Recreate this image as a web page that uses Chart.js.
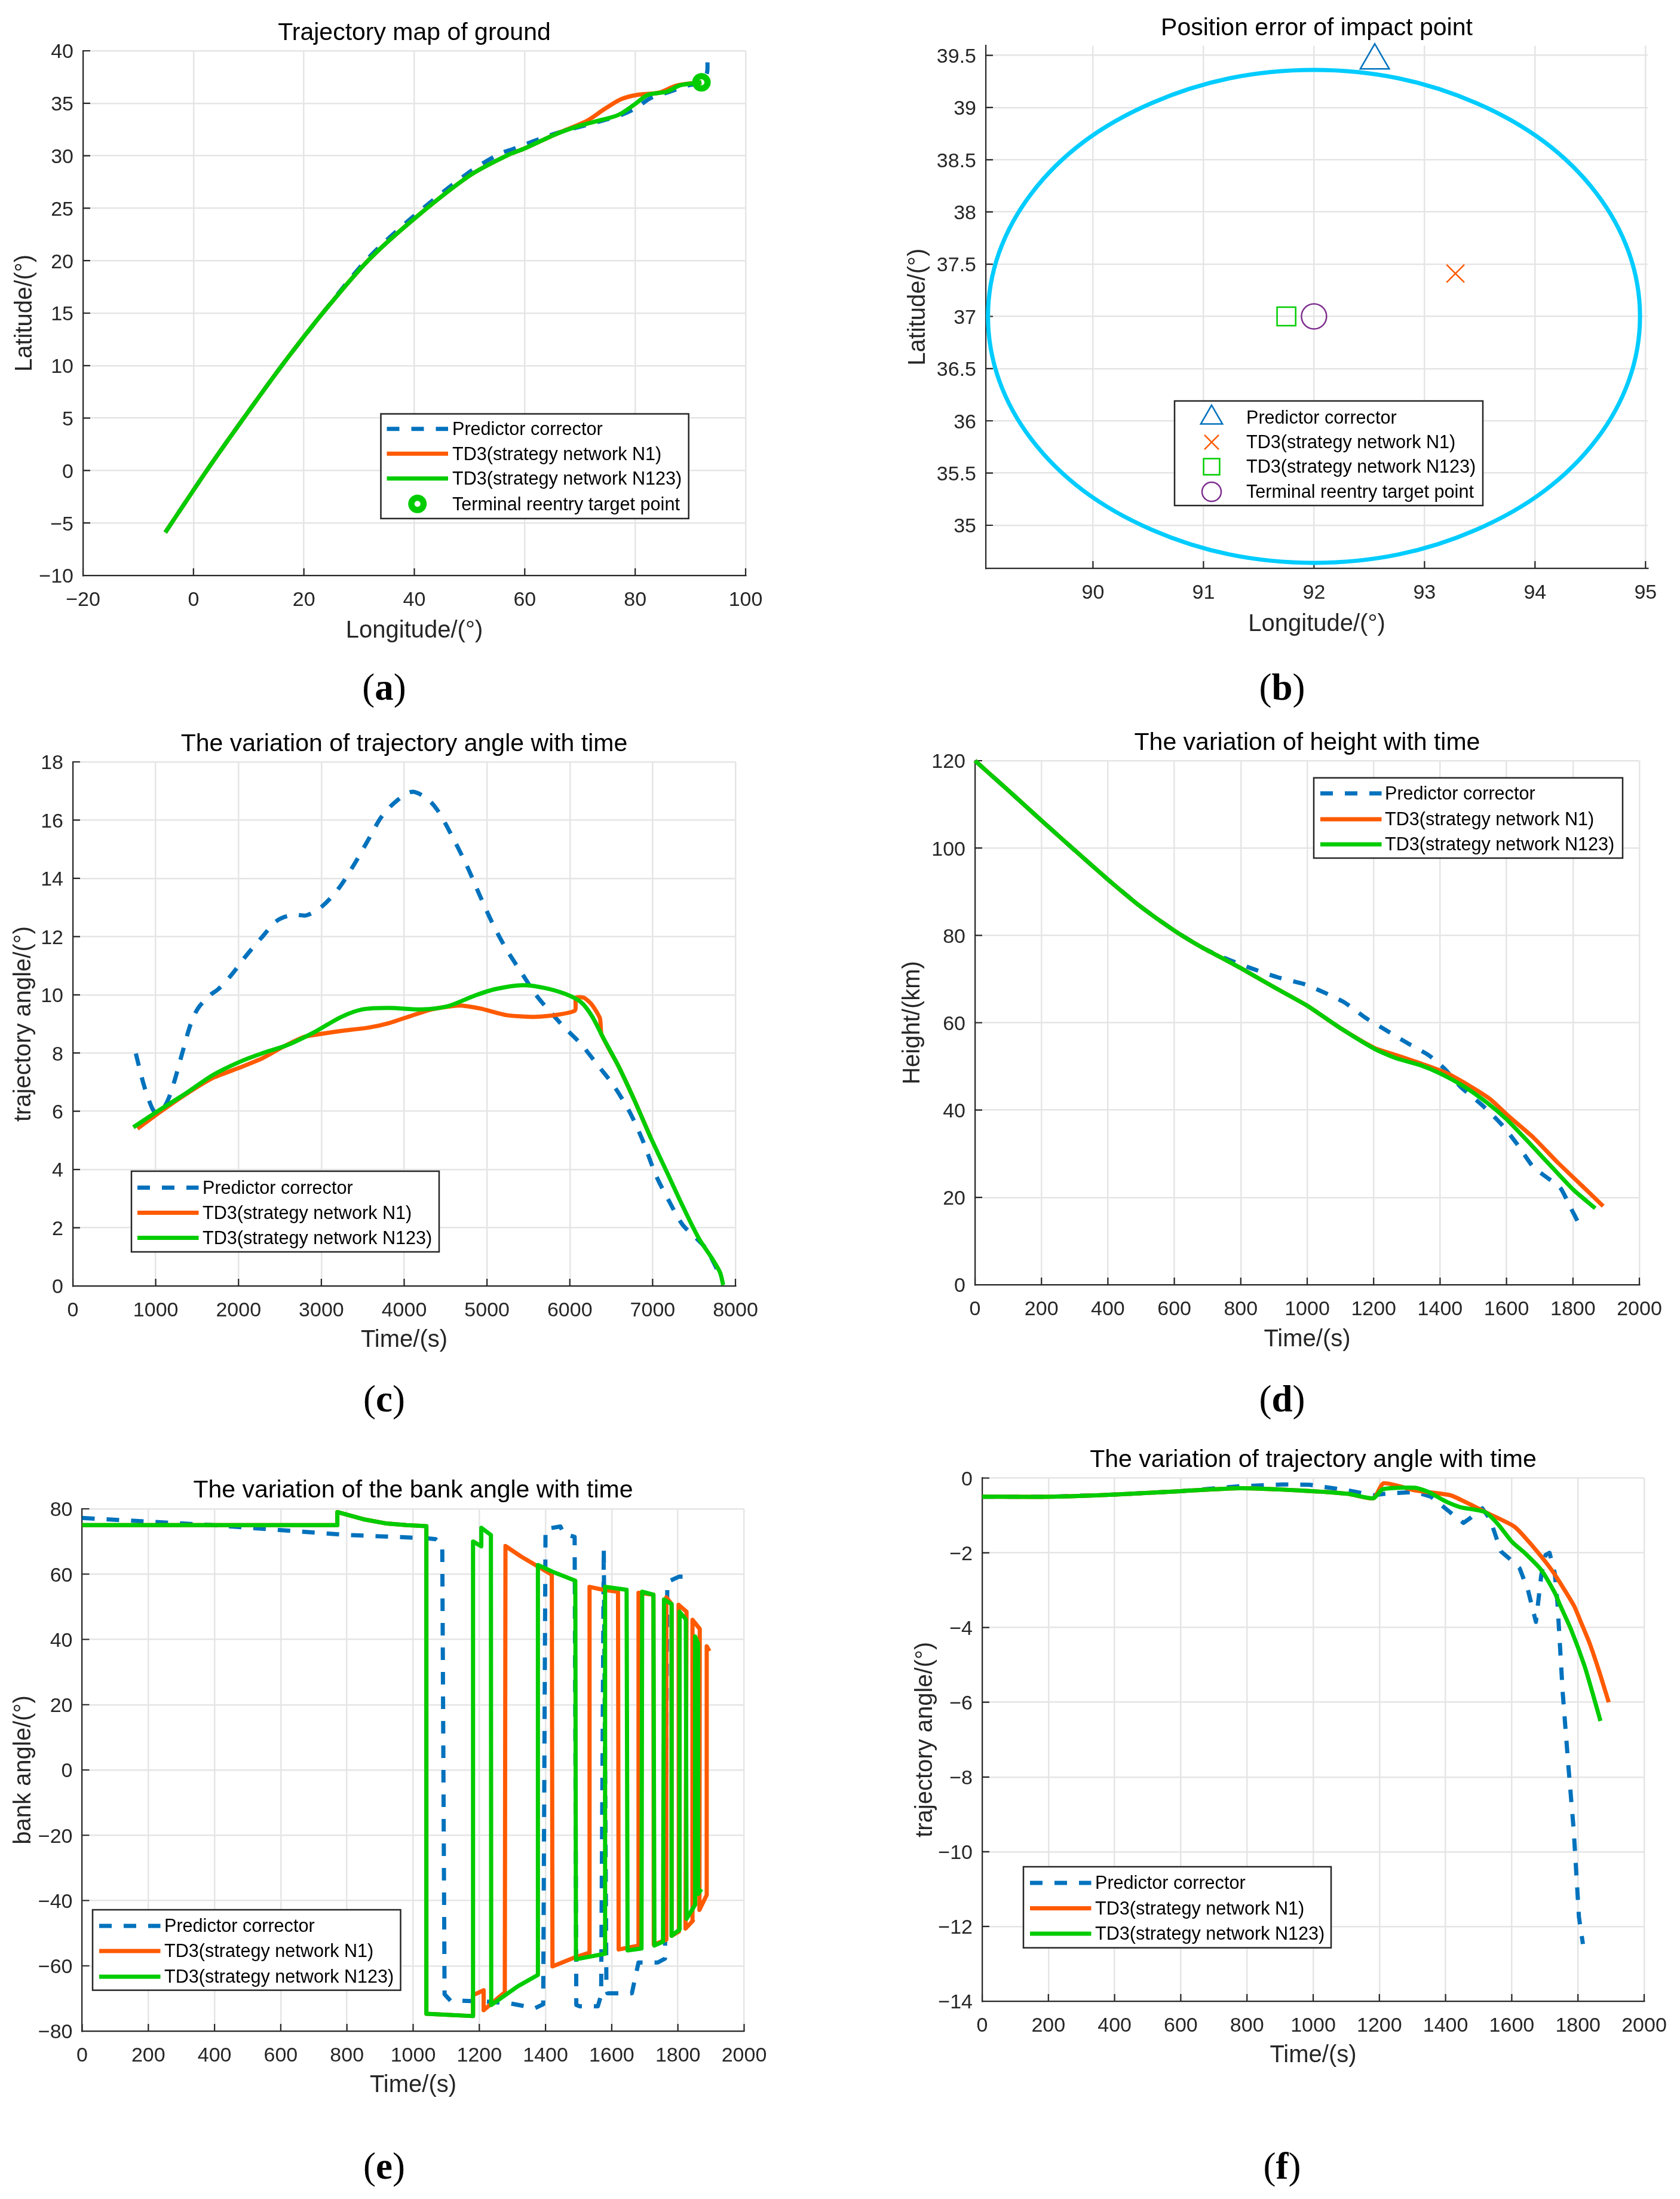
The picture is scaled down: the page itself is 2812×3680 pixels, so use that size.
<!DOCTYPE html>
<html>
<head>
<meta charset="utf-8">
<title>Trajectory charts</title>
<script src="https://cdn.jsdelivr.net/npm/chart.js@4/dist/chart.umd.min.js"></script>
<style>
    body { margin: 0; background: #fff; width: 2812px; height: 3680px; position: relative; overflow: hidden; }
    canvas { position: absolute; }
    .caption { position: absolute; font: 63px "Liberation Serif", serif; color: #000; transform: translate(-50%, -50%); }
</style>
</head>
<body>
<script>
const seriesNames = ['Predictor corrector', 'TD3(strategy network N1)', 'TD3(strategy network N123)'];
const targetName = 'Terminal reentry target point';
const captions = ['a', 'b', 'c', 'd', 'e', 'f'];

// (a) ground track
const aPcLon = [-5.1, 2.4, 9.1, 16, 23.4, 31.4, 39.8, 49.6, 55.5, 57.7, 65.4, 73.1, 77.5, 80, 82.8, 85.7, 89.6, 92, 93, 93.1];
const aPcLat = [-5.9, 0, 5, 10, 15, 20.1, 24.2, 28.3, 30.2, 30.6, 32.1, 33.2, 33.9, 34.5, 35.5, 36, 36.7, 37, 37.9, 38.9];
const aN1Lon = [-5.1, 2.4, 9.1, 16, 23.4, 31.6, 40, 50, 56.7, 60, 65.4, 69, 71.2, 74.6, 77.5, 80.4, 84.2, 87.6, 92];
const aN1Lat = [-5.9, 0, 5, 10, 15, 20, 24, 28.1, 30, 30.7, 32, 32.8, 33.3, 34.5, 35.4, 35.8, 36, 36.7, 37];
const aN123Lon = [-5.1, 2.4, 9.1, 16, 23.4, 31.6, 40, 50, 56.7, 60, 65.4, 69.6, 73.1, 77, 79.9, 82.3, 85.7, 88.1, 92];
const aN123Lat = [-5.9, 0, 5, 10, 15, 20, 24, 28.1, 30, 30.7, 32, 32.8, 33.3, 33.9, 34.9, 35.8, 36.1, 36.7, 37];
const aTargetLon = [92];
const aTargetLat = [37];

// (b) impact point error, first and last ring segments only steer the curve at the seam
const bRingLon = [94.85, 94.95, 94.85, 94.555, 94.086, 93.475, 92.764, 92, 91.236, 90.525, 89.914, 89.445, 89.15, 89.05, 89.15, 89.445, 89.914, 90.525, 91.236, 92, 92.764, 93.475, 94.086, 94.555, 94.85, 94.95, 94.85];
const bRingLat = [36.39, 37, 37.61, 38.18, 38.67, 39.04, 39.28, 39.36, 39.28, 39.04, 38.67, 38.18, 37.61, 37, 36.39, 35.82, 35.33, 34.96, 34.72, 34.64, 34.72, 34.96, 35.33, 35.82, 36.39, 37, 37.61];
const bPcLon = [92.55];
const bPcLat = [39.45];
const bN1Lon = [93.28];
const bN1Lat = [37.41];
const bN123Lon = [91.75];
const bN123Lat = [37];
const bTargetLon = [92];
const bTargetLat = [37];

// (c) trajectory angle, long time axis
const cPcTime = [760, 857, 953, 1000, 1114, 1211, 1340, 1423, 1514, 1662, 1758, 1919, 2080, 2274, 2467, 2660, 2821, 3014, 3208, 3401, 3562, 3723, 3884, 4090, 4270, 4400, 4560, 4754, 4915, 5076, 5237, 5430, 5591, 5752, 5945, 6138, 6332, 6525, 6718, 6880, 7040, 7201, 7362, 7523, 7652, 7781];
const cPcAngle = [7.98, 6.9, 6.13, 5.97, 6.2, 6.9, 8.2, 9, 9.55, 10, 10.2, 10.7, 11.3, 11.95, 12.55, 12.75, 12.73, 13.05, 13.65, 14.5, 15.3, 16.1, 16.6, 16.97, 16.75, 16.35, 15.55, 14.45, 13.4, 12.4, 11.55, 10.7, 10, 9.45, 8.85, 8.3, 7.6, 6.9, 6, 5, 3.8, 2.9, 2.1, 1.65, 1.25, 0.55];
const cN1Time = [780, 1050, 1372, 1694, 2016, 2274, 2531, 2789, 2982, 3240, 3562, 3820, 4077, 4335, 4657, 4915, 5237, 5559, 5816, 6061, 6074, 6170, 6267, 6364, 6383, 6589, 6783, 6976];
const cN1Angle = [5.4, 5.97, 6.6, 7.15, 7.5, 7.8, 8.2, 8.55, 8.65, 8.76, 8.87, 9.03, 9.27, 9.5, 9.63, 9.53, 9.3, 9.24, 9.3, 9.46, 9.9, 9.9, 9.66, 9.19, 8.64, 7.54, 6.36, 5.1];
const cN123Time = [730, 1050, 1372, 1694, 2016, 2274, 2596, 2918, 3240, 3498, 3820, 4206, 4528, 4850, 5108, 5430, 5688, 5945, 6138, 6267, 6396, 6589, 6783, 6976, 7169, 7362, 7555, 7716, 7813, 7852];
const cN123Angle = [5.45, 6.05, 6.63, 7.25, 7.7, 7.98, 8.28, 8.72, 9.24, 9.5, 9.55, 9.5, 9.61, 9.97, 10.2, 10.33, 10.24, 10.03, 9.74, 9.27, 8.56, 7.54, 6.36, 5.1, 3.93, 2.75, 1.65, 0.95, 0.47, 0.03];

// (d) height
const dPcTime = [0, 100, 200, 300, 400, 500, 600, 684, 749, 830, 911, 992, 1049, 1113, 1178, 1235, 1300, 1365, 1413, 1462, 1527, 1583, 1632, 1681, 1721, 1762, 1794, 1815];
const dPcHeight = [120, 113.2, 106.3, 99.5, 92.8, 86.5, 81.1, 77.2, 74.9, 72.5, 70.4, 68.8, 67, 64.6, 61, 58.4, 55.4, 52.6, 49.5, 45.3, 41.1, 36.9, 32.2, 26.9, 24.6, 22.2, 17.5, 14.4];
const dN1Time = [0, 100, 200, 300, 400, 500, 600, 684, 749, 800, 901, 1000, 1097, 1203, 1275, 1348, 1421, 1494, 1551, 1608, 1681, 1754, 1827, 1891];
const dN1Height = [120, 113.2, 106.3, 99.5, 92.8, 86.5, 81.1, 77.2, 74.6, 72.5, 68.1, 63.9, 58.9, 54.2, 52.4, 50.5, 48.4, 45.3, 42.5, 38.5, 33.7, 28, 22.7, 18];
const dN123Time = [0, 100, 200, 300, 400, 500, 600, 684, 749, 800, 901, 1000, 1097, 1203, 1267, 1340, 1400, 1470, 1543, 1600, 1672, 1737, 1802, 1867];
const dN123Height = [120, 113.2, 106.3, 99.5, 92.8, 86.5, 81.1, 77.2, 74.6, 72.5, 68.1, 63.9, 58.9, 54, 51.9, 50.3, 48.4, 45.5, 41.6, 37.9, 32.2, 26.9, 21.7, 17.5];

// (e) bank angle
const ePcTime = [0, 396, 800, 1041, 1068, 1088, 1095, 1113, 1145, 1210, 1293, 1368, 1393, 1400, 1445, 1455, 1488, 1493, 1503, 1558, 1568, 1576, 1584, 1587, 1661, 1671, 1681, 1739, 1761, 1768, 1803, 1816];
const ePcBank = [77.2, 75, 72, 71, 70.7, 68.9, -68.7, -70.7, -70.7, -70.9, -71.5, -73, -71.8, 73.8, 74.6, 72.3, 71.4, -72, -72.4, -72.4, -69, 68, -67.2, -68.4, -68.4, -63.6, -59, -59, -57.8, 57.6, 59.2, 59.2];
const eN1Time = [0, 770, 771, 850, 920, 980, 1040, 1040, 1180, 1181, 1213, 1213, 1277, 1279, 1326, 1374, 1419, 1421, 1487, 1532, 1533, 1574, 1619, 1621, 1681, 1681, 1726, 1727, 1765, 1765, 1781, 1781, 1803, 1802, 1826, 1823, 1845, 1844, 1866, 1865, 1887, 1887, 1895];
const eN1Bank = [75, 75, 79, 76.8, 75.5, 75, 74.7, -74.7, -75.4, -69, -67.5, -73.6, -68.1, 68.6, 65.4, 62.5, 59.8, -60.2, -57.5, -56, 56.1, 55.2, 54.6, -55, -53.8, 54.3, 53.7, -53.5, -52, 52.9, 50.8, -50.8, -49.5, 50.6, 48.5, -48.6, -46.2, 46, 43.2, -42.9, -38.3, 37.9, 36.4];
const eN123Time = [0, 770, 771, 850, 920, 980, 1040, 1040, 1180, 1181, 1206, 1206, 1235, 1236, 1316, 1377, 1377, 1429, 1490, 1492, 1580, 1580, 1645, 1648, 1690, 1692, 1726, 1729, 1755, 1758, 1781, 1781, 1805, 1805, 1824, 1826, 1852, 1852, 1861, 1861, 1871];
const eN123Bank = [75, 75, 79, 76.8, 75.5, 75, 74.7, -74.7, -75.4, 70, 68.5, 74.2, 72, -72, -66.3, -62.8, 62.8, 60.4, 58, -58, -56.3, 56.1, 55.2, -55.3, -54.7, 54.6, 53.7, -53.8, -52.6, 52.2, 50.8, -50.8, -48.9, 48.5, 46.1, -45.6, -41.3, 40.9, 38.8, -38, -36.5];

// (f) trajectory angle, short time axis
const fPcTime = [0, 210, 405, 600, 779, 909, 990, 1104, 1182, 1218, 1307, 1356, 1413, 1454, 1478, 1511, 1535, 1567, 1592, 1624, 1649, 1673, 1689, 1702, 1714, 1730, 1738, 1754, 1771, 1787, 1803, 1815];
const fPcAngle = [-0.5, -0.5, -0.44, -0.35, -0.22, -0.17, -0.18, -0.33, -0.46, -0.42, -0.37, -0.5, -0.91, -1.2, -1.05, -0.81, -1.11, -1.96, -2.15, -2.42, -3, -3.85, -2.61, -2.06, -2, -2.55, -3.33, -5.75, -7.7, -9.4, -11.75, -12.47];
const fN1Time = [0, 210, 405, 600, 779, 958, 1104, 1182, 1213, 1307, 1414, 1462, 1527, 1608, 1657, 1722, 1787, 1811, 1836, 1865, 1893];
const fN1Angle = [-0.5, -0.5, -0.44, -0.35, -0.27, -0.33, -0.42, -0.54, -0.14, -0.33, -0.46, -0.65, -0.94, -1.3, -1.76, -2.48, -3.4, -3.9, -4.44, -5.2, -6];
const fN123Time = [0, 210, 405, 600, 779, 958, 1104, 1182, 1210, 1307, 1348, 1397, 1445, 1519, 1559, 1600, 1641, 1689, 1730, 1746, 1779, 1820, 1844, 1868];
const fN123Angle = [-0.5, -0.5, -0.44, -0.35, -0.27, -0.33, -0.42, -0.54, -0.3, -0.26, -0.37, -0.61, -0.78, -0.91, -1.24, -1.7, -2.02, -2.46, -3.07, -3.4, -4.05, -5.03, -5.75, -6.5];

const BLUE = '#0072BD', ORANGE = '#FF5A00', GREEN = '#00CC00', CYAN = '#00CCFF', PURPLE = '#7E2F8E';
const INK = '#262626', GRID = '#e5e5e5';
const SANS = '"Liberation Sans", Arial, sans-serif';
const lineStyles = [
    { color: BLUE, dash: [21, 20] },
    { color: ORANGE, dash: [] },
    { color: GREEN, dash: [] }
];

function xy(xs, ys) {
    return xs.map((x, i) => ({ x: x, y: ys[i] }));
}

function curve(i, xs, ys, tension) {
    return {
        label: seriesNames[i],
        data: xy(xs, ys),
        showLine: true,
        borderColor: lineStyles[i].color,
        borderDash: lineStyles[i].dash,
        borderWidth: 7,
        borderJoinStyle: 'round',
        pointRadius: 0,
        tension: tension || 0,
        clip: false,
        order: 3 - i
    };
}

function ring(xs, ys) {
    const last = xs.length - 1;
    return Object.assign(curve(0, xs, ys, 0.33), {
        label: 'Error circle',
        borderColor: CYAN,
        borderDash: [],
        order: 5,
        segment: {
            borderColor: ctx => (ctx.p0DataIndex === 0 || ctx.p1DataIndex === last) ? 'transparent' : undefined
        }
    });
}

function marker(label, xs, ys, style, color, radius, width, order) {
    return {
        label: label,
        data: xy(xs, ys),
        pointStyle: style,
        pointRadius: radius,
        pointBorderColor: color,
        pointBackgroundColor: 'transparent',
        pointBorderWidth: width,
        clip: false,
        order: order
    };
}

// MATLAB style ticks, pointing into the plot
const inwardTicks = {
    id: 'inwardTicks',
    beforeDatasetsDraw(chart) {
        const ctx = chart.ctx, area = chart.chartArea;
        ctx.save();
        ctx.strokeStyle = INK;
        ctx.lineWidth = 2.2;
        ctx.beginPath();
        chart.scales.x.ticks.forEach(t => {
            const px = chart.scales.x.getPixelForValue(t.value);
            ctx.moveTo(px, area.bottom);
            ctx.lineTo(px, area.bottom - 12);
        });
        chart.scales.y.ticks.forEach(t => {
            const py = chart.scales.y.getPixelForValue(t.value);
            ctx.moveTo(area.left, py);
            ctx.lineTo(area.left + 12, py);
        });
        ctx.stroke();
        ctx.restore();
    }
};

// legend box sitting inside the plot
const boxLegend = {
    id: 'boxLegend',
    afterDatasetsDraw(chart) {
        const p = chart.canvas.panel, lg = p.legend;
        const ctx = chart.ctx, ox = p.frame[0], oy = p.frame[1];
        ctx.save();
        ctx.fillStyle = '#fff';
        ctx.strokeStyle = INK;
        ctx.lineWidth = 2.5;
        ctx.fillRect(lg.box[0] - ox, lg.box[1] - oy, lg.box[2] - lg.box[0], lg.box[3] - lg.box[1]);
        ctx.strokeRect(lg.box[0] - ox, lg.box[1] - oy, lg.box[2] - lg.box[0], lg.box[3] - lg.box[1]);
        ctx.font = '30.6px ' + SANS;
        ctx.textBaseline = 'middle';
        lg.rows.forEach(r => {
            const y = r.y - oy;
            if (r.line) {
                ctx.strokeStyle = r.line.color;
                ctx.setLineDash(r.line.dash);
                ctx.lineWidth = 7;
                ctx.beginPath();
                ctx.moveTo(lg.sample[0] - ox, y);
                ctx.lineTo(lg.sample[1] - ox, y);
                ctx.stroke();
                ctx.setLineDash([]);
            } else {
                ctx.strokeStyle = r.mark.color;
                ctx.fillStyle = 'transparent';
                ctx.lineWidth = r.mark.width;
                Chart.helpers.drawPoint(ctx, { pointStyle: r.mark.style, radius: r.mark.radius, rotation: 0, borderWidth: r.mark.width }, (lg.sample[0] + lg.sample[1]) / 2 - ox, y);
            }
            ctx.fillStyle = '#000';
            ctx.fillText(r.text, lg.textX - ox, y + 2);
        });
        ctx.restore();
    }
};

function lineRows(ys) {
    return ys.map((y, i) => ({ y: y, text: seriesNames[i], line: lineStyles[i] }));
}

function tickText(v) {
    return String(v).replace('-', '\u2212');
}

const panels = [
    {
        frame: [0, 0, 1400, 1100], plot: [139, 85, 1248, 963],
        title: 'Trajectory map of ground', titleY: 56,
        xTitle: 'Longitude/(\u00b0)', xTitleY: 1056, yTitle: 'Latitude/(\u00b0)', yTitleX: 42,
        x: [-20, 100, 20], y: [-10, 40, 5],
        datasets: [
            curve(0, aPcLon, aPcLat, 0.3), curve(1, aN1Lon, aN1Lat, 0.3), curve(2, aN123Lon, aN123Lat, 0.3),
            marker(targetName, aTargetLon, aTargetLat, 'circle', GREEN, 10.25, 10.5, 0)
        ],
        legend: {
            box: [637.5, 692.6, 1152.7, 867.8], sample: [647.5, 750], textX: 757,
            rows: lineRows([717.7, 759.3, 800.7]).concat([{ y: 843.3, text: targetName, mark: { style: 'circle', color: GREEN, radius: 10.25, width: 10.5 } }])
        }
    },
    {
        frame: [1400, 0, 1412, 1100], plot: [1650, 76.5, 2758, 951],
        title: 'Position error of impact point', titleY: 48,
        xTitle: 'Longitude/(\u00b0)', xTitleY: 1045, yTitle: 'Latitude/(\u00b0)', yTitleX: 1537,
        x: [89.03, 95.02, 1], y: [34.588, 39.592, 0.5],
        datasets: [
            ring(bRingLon, bRingLat),
            marker(seriesNames[0], bPcLon, bPcLat, 'triangle', BLUE, 28, 2.5, 4),
            marker(seriesNames[1], bN1Lon, bN1Lat, 'crossRot', ORANGE, 21, 2.5, 3),
            marker(seriesNames[2], bN123Lon, bN123Lat, 'rect', GREEN, 22, 2.5, 2),
            marker(targetName, bTargetLon, bTargetLat, 'circle', PURPLE, 21, 2.5, 1)
        ],
        legend: {
            box: [1966, 671, 2482, 846], sample: [2000, 2056], textX: 2086,
            rows: [
                { y: 699, text: seriesNames[0], mark: { style: 'triangle', color: BLUE, radius: 21, width: 2.5 } },
                { y: 740, text: seriesNames[1], mark: { style: 'crossRot', color: ORANGE, radius: 17, width: 2.5 } },
                { y: 781, text: seriesNames[2], mark: { style: 'rect', color: GREEN, radius: 19, width: 2.5 } },
                { y: 823, text: targetName, mark: { style: 'circle', color: PURPLE, radius: 16, width: 2.5 } }
            ]
        }
    },
    {
        frame: [0, 1190, 1400, 1090], plot: [122, 1275, 1231, 2152],
        title: 'The variation of trajectory angle with time', titleY: 1246,
        xTitle: 'Time/(s)', xTitleY: 2243, yTitle: 'trajectory angle/(\u00b0)', yTitleX: 39.5,
        x: [0, 8000, 1000], y: [0, 18, 2],
        datasets: [curve(0, cPcTime, cPcAngle, 0.3), curve(1, cN1Time, cN1Angle, 0.2), curve(2, cN123Time, cN123Angle, 0.3)],
        legend: { box: [220, 1960, 735, 2095], sample: [230, 332.5], textX: 339, rows: lineRows([1987.4, 2029.5, 2071.5]) }
    },
    {
        frame: [1400, 1190, 1412, 1090], plot: [1632, 1273, 2744, 2150],
        title: 'The variation of height with time', titleY: 1244,
        xTitle: 'Time/(s)', xTitleY: 2242, yTitle: 'Height/(km)', yTitleX: 1528,
        x: [0, 2000, 200], y: [0, 120, 20],
        datasets: [curve(0, dPcTime, dPcHeight, 0.2), curve(1, dN1Time, dN1Height, 0.2), curve(2, dN123Time, dN123Height, 0.2)],
        legend: { box: [2199, 1301.7, 2716, 1436], sample: [2210, 2312.5], textX: 2318, rows: lineRows([1327.7, 1371, 1413]) }
    },
    {
        frame: [0, 2440, 1400, 1090], plot: [137.5, 2525, 1245.5, 3399],
        title: 'The variation of the bank angle with time', titleY: 2495,
        xTitle: 'Time/(s)', xTitleY: 3490, yTitle: 'bank angle/(\u00b0)', yTitleX: 39.5,
        x: [0, 2000, 200], y: [-80, 80, 20],
        datasets: [curve(0, ePcTime, ePcBank), curve(1, eN1Time, eN1Bank), curve(2, eN123Time, eN123Bank)],
        legend: { box: [155, 3196, 670.5, 3330.6], sample: [166, 268.5], textX: 275, rows: lineRows([3223, 3265, 3308]) }
    },
    {
        frame: [1400, 2400, 1412, 1090], plot: [1644, 2473.5, 2752, 3349],
        title: 'The variation of trajectory angle with time', titleY: 2444,
        xTitle: 'Time/(s)', xTitleY: 3440, yTitle: 'trajectory angle/(\u00b0)', yTitleX: 1549,
        x: [0, 2000, 200], y: [-14, 0, 2],
        datasets: [curve(0, fPcTime, fPcAngle), curve(1, fN1Time, fN1Angle, 0.2), curve(2, fN123Time, fN123Angle, 0.2)],
        legend: { box: [1713, 3124, 2228, 3259.6], sample: [1724, 1826.5], textX: 1833, rows: lineRows([3151, 3193.5, 3236]) }
    }
];

const captionSpots = [[643, 1150], [2146, 1150], [643, 2341], [2146, 2341], [643, 3625], [2146, 3625]];

function axis(range, size, titleText, titlePadding, isX) {
    return {
        type: 'linear',
        min: range[0],
        max: range[1],
        afterFit(scale) {
            if (isX) scale.height = size; else scale.width = size;
        },
        grid: { color: GRID, lineWidth: 2.5, drawTicks: false },
        border: { display: true, color: INK, width: 2.2 },
        ticks: {
            stepSize: range[2],
            includeBounds: false,
            autoSkip: false,
            maxRotation: 0,
            padding: isX ? 21 : 16,
            labelOffset: isX ? 0 : 3,
            color: INK,
            font: { family: SANS, size: 34 },
            callback: tickText
        },
        title: { display: true, text: titleText, color: INK, font: { family: SANS, size: 40 }, padding: titlePadding }
    };
}

panels.forEach((p, i) => {
    const canvas = document.createElement('canvas');
    canvas.width = p.frame[2];
    canvas.height = p.frame[3];
    canvas.style.left = p.frame[0] + 'px';
    canvas.style.top = p.frame[1] + 'px';
    canvas.panel = p;
    document.body.appendChild(canvas);

    const lh = 48, titleLh = 49.2;
    const frameBottom = p.frame[1] + p.frame[3];
    new Chart(canvas.getContext('2d'), {
        type: 'scatter',
        data: { datasets: p.datasets },
        plugins: [inwardTicks, boxLegend],
        options: {
            responsive: false,
            animation: false,
            devicePixelRatio: 1,
            events: [],
            layout: { padding: { left: 0, top: 0, bottom: 0, right: p.frame[0] + p.frame[2] - p.plot[2] } },
            plugins: {
                legend: { display: false },
                tooltip: { enabled: false },
                title: {
                    display: true,
                    text: p.title,
                    color: '#000',
                    fullSize: false,
                    font: { family: SANS, size: 41, weight: 'normal' },
                    padding: { top: p.titleY - p.frame[1] - titleLh / 2, bottom: p.plot[1] - p.titleY - titleLh / 2 }
                }
            },
            scales: {
                x: axis(p.x, frameBottom - p.plot[3], p.xTitle, { top: 0, bottom: frameBottom - p.xTitleY - lh / 2 }, true),
                y: axis(p.y, p.plot[0] - p.frame[0], p.yTitle, { top: p.yTitleX - p.frame[0] - lh / 2, bottom: 0 }, false)
            }
        }
    });

    const cap = document.createElement('div');
    cap.className = 'caption';
    cap.style.left = captionSpots[i][0] + 'px';
    cap.style.top = captionSpots[i][1] + 'px';
    cap.innerHTML = '(<b>' + captions[i] + '</b>)';
    document.body.appendChild(cap);
});
</script>
</body>
</html>
